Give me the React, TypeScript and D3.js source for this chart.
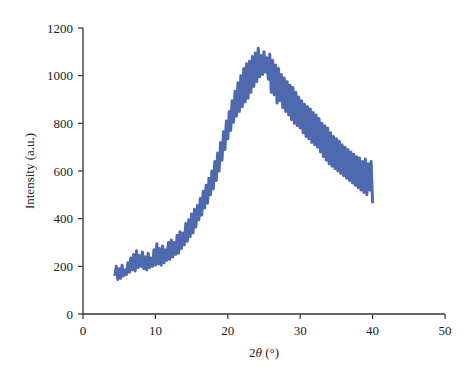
import React from "react";
import * as d3 from "d3";

const xTicks = [0, 10, 20, 30, 40, 50];
const yTicks = [0, 200, 400, 600, 800, 1000, 1200];
const angleStart = 4.4;
const angleStep = 0.2;
const intensity = [
  160, 200, 145, 190, 150, 205, 160, 185, 165, 215,
  175, 235, 185, 250, 180, 265, 195, 245, 200, 260,
  190, 240, 185, 255, 195, 235, 200, 270, 205, 295,
  210, 275, 205, 285, 215, 270, 225, 300, 230, 310,
  240, 300, 250, 330, 255, 345, 275, 340, 290, 380,
  305, 395, 325, 420, 340, 440, 365, 455, 395, 485,
  415, 515, 445, 540, 465, 570, 500, 600, 525, 640,
  560, 675, 600, 720, 645, 765, 690, 810, 735, 850,
  770, 895, 805, 935, 830, 970, 850, 1000, 870, 1030,
  890, 1050, 905, 1060, 930, 1080, 955, 1095, 975, 1115,
  995, 1085, 1005, 1100, 1015, 1075, 985, 1090, 930, 1065,
  920, 1045, 885, 1030, 895, 1005, 865, 990, 850, 975,
  835, 960, 815, 950, 800, 930, 790, 910, 780, 895,
  760, 880, 745, 870, 735, 860, 720, 845, 710, 835,
  700, 820, 680, 800, 660, 790, 645, 780, 630, 760,
  620, 745, 610, 735, 600, 725, 590, 710, 580, 700,
  570, 690, 560, 680, 550, 670, 540, 660, 530, 655,
  520, 640, 510, 650, 500, 630, 520, 640, 465,
];

export default function App() {
  const W = 474, H = 382;
  const x = d3.scaleLinear().domain([0, 50]).range([83, 445]);
  const y = d3.scaleLinear().domain([0, 1200]).range([314, 28]);
  const pts: [number, number][] = intensity.map((v, i) => [angleStart + i * angleStep, v]);
  const line = d3.line<[number, number]>().x(d => x(d[0])).y(d => y(d[1]));
  const font = "'Liberation Serif', 'Times New Roman', serif";
  const axisColor = "#333";
  return (
    <svg width={W} height={H} style={{ position: "absolute", left: 0, top: 0, background: "#fff" }} fontFamily={font}>
      <rect width={W} height={H} fill="#fff" />
      <path d={line(pts) || ""} fill="none" stroke="#4e69ad" strokeWidth={3} strokeLinejoin="round" />
      <line x1={x(0)} x2={x(0)} y1={y(0)} y2={y(1200)} stroke={axisColor} strokeWidth={1.3} />
      <line x1={x(0)} x2={x(50)} y1={y(0)} y2={y(0)} stroke={axisColor} strokeWidth={1.3} />
      {yTicks.map(t => (
        <g key={"y" + t}>
          <line x1={x(0) - 5} x2={x(0)} y1={y(t)} y2={y(t)} stroke={axisColor} strokeWidth={1.2} />
          <text x={73} y={y(t)} dy="0.35em" textAnchor="end" fontSize={13} fill="#222">{t}</text>
        </g>
      ))}
      {xTicks.map(t => (
        <g key={"x" + t}>
          <line x1={x(t)} x2={x(t)} y1={y(0)} y2={y(0) + 5} stroke={axisColor} strokeWidth={1.2} />
          <text x={x(t)} y={335} textAnchor="middle" fontSize={13} fill="#222">{t}</text>
        </g>
      ))}
      <text transform={`translate(34,${171}) rotate(-90)`} textAnchor="middle" fontSize={13} fill="#222">Intensity (a.u.)</text>
      <text x={264} y={357} textAnchor="middle" fontSize={13} fill="#222">
        2<tspan fontStyle="italic">θ</tspan> (°)
      </text>
    </svg>
  );
}
